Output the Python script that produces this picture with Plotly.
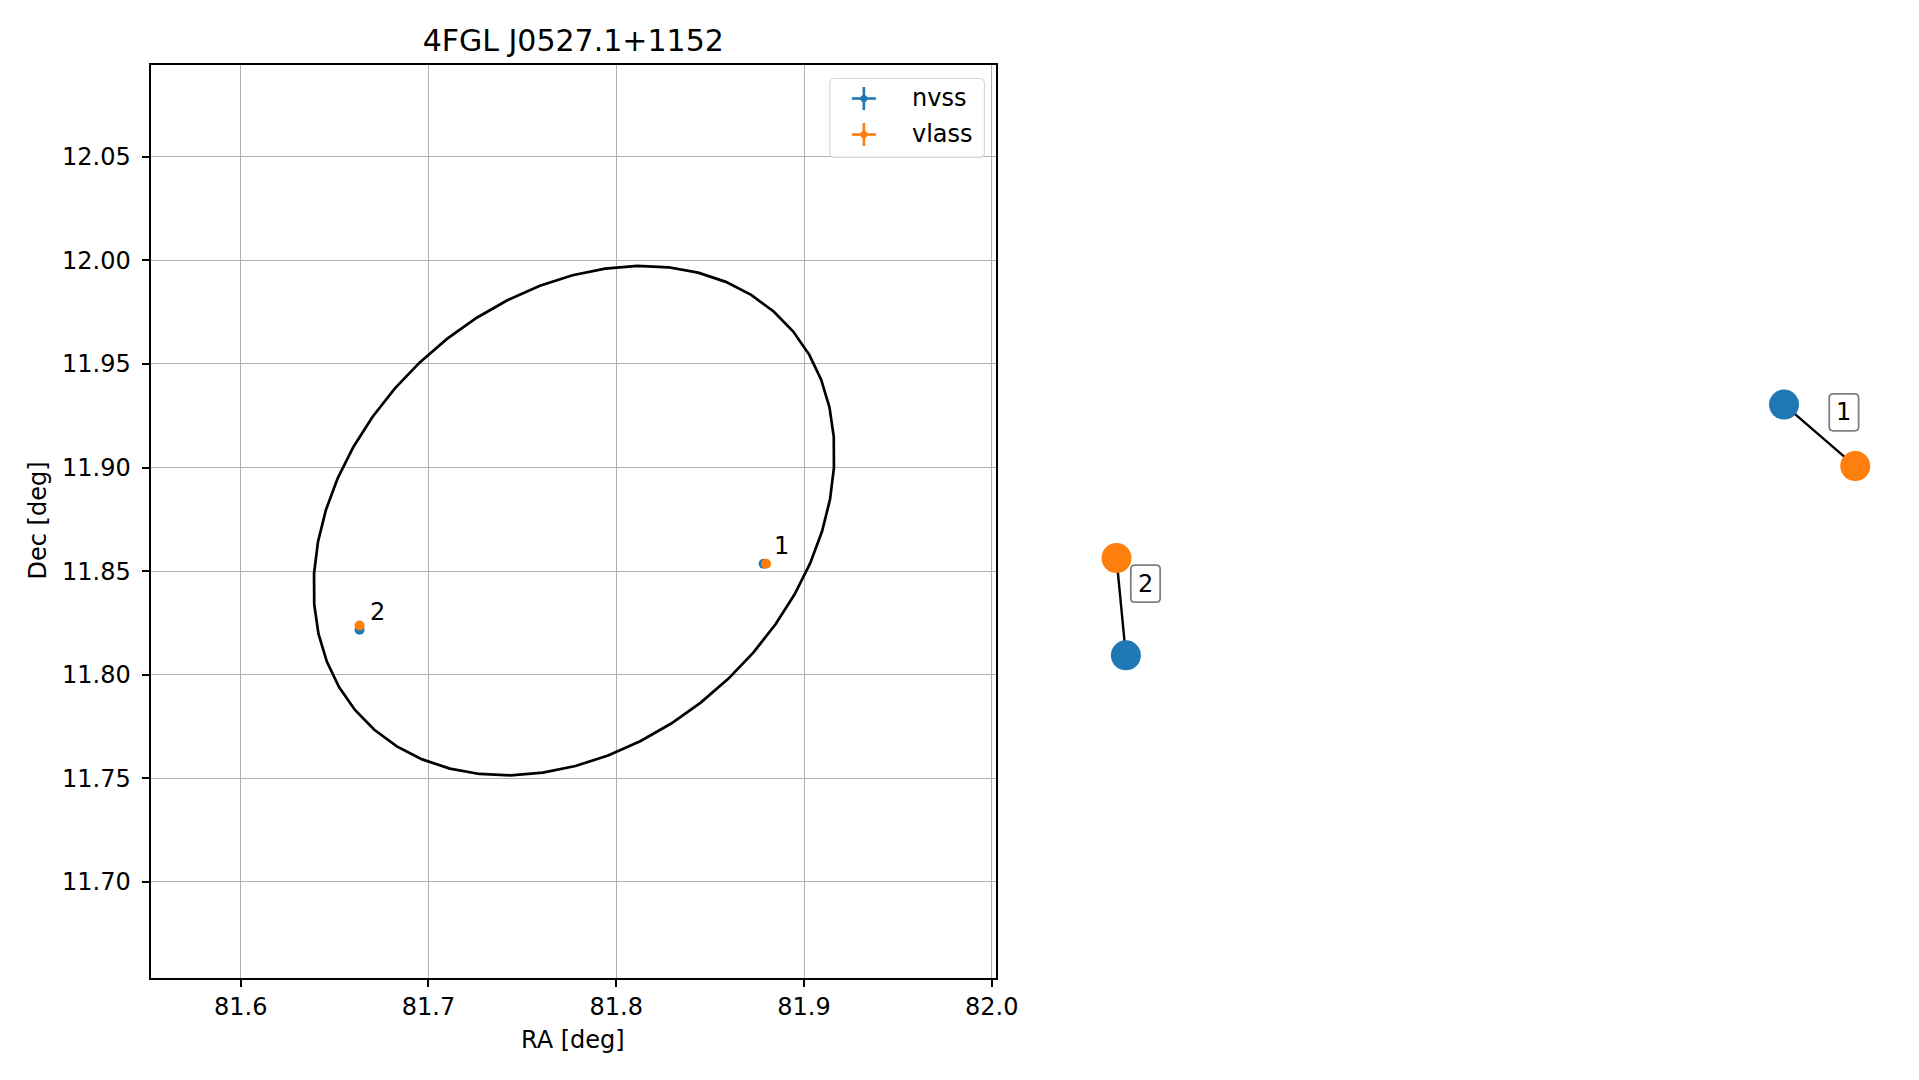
import numpy as np
import plotly.graph_objects as go

# ---------------- data ----------------
TITLE = "4FGL J0527.1+1152"
source_ids = ["1", "2"]
nvss_ra = [81.8785, 81.6633]
nvss_dec = [11.8536, 11.8217]
vlass_ra = [81.8798, 81.6633]
vlass_dec = [11.8536, 11.8238]

# 4FGL 95% ellipse (centre, semi-axes in deg, rotation in deg)
ell_ra = 81.7775
ell_dec = 11.8744
ell_a = 0.1487
ell_b = 0.1106
ell_angle = 32.7
ell_npts = 50

x_ticks = [81.6, 81.7, 81.8, 81.9, 82.0]
y_ticks = [11.70, 11.75, 11.80, 11.85, 11.90, 11.95, 12.00, 12.05]
x_range = [81.552, 82.0022]
y_range = [11.6539, 12.0943]

# right-hand match graph layout (node positions in graph units 0..1)
graph_nvss_x = [0.8714, 0.0788]
graph_nvss_y = [0.6279, 0.3531]
graph_vlass_x = [0.9572, 0.0675]
graph_vlass_y = [0.5605, 0.4597]

BLUE = "#1f77b4"
ORANGE = "#ff7f0e"
FONT = "DejaVu Sans"
W, H = 1919, 1080
K = 0.9876  # horizontal rendering factor observed in the capture


def px(x):
    return x / (W * K)


def py(y):
    return 1 - y / H


# ---------------- figure ----------------
fig = go.Figure()

# ellipse outline
t = np.linspace(0, 2 * np.pi, ell_npts + 1)
th = np.deg2rad(ell_angle)
ex = ell_ra + ell_a * np.cos(th) * np.cos(t) - ell_b * np.sin(th) * np.sin(t)
ey = ell_dec + ell_a * np.sin(th) * np.cos(t) + ell_b * np.cos(th) * np.sin(t)
fig.add_trace(go.Scatter(x=ex, y=ey, mode="lines", line=dict(color="black", width=2.7),
                         showlegend=False, hoverinfo="skip", xaxis="x", yaxis="y"))

fig.add_trace(go.Scatter(x=nvss_ra, y=nvss_dec, mode="markers", name="nvss",
                         marker=dict(color=BLUE, size=10), showlegend=False,
                         xaxis="x", yaxis="y"))
fig.add_trace(go.Scatter(x=vlass_ra, y=vlass_dec, mode="markers", name="vlass",
                         marker=dict(color=ORANGE, size=10), showlegend=False,
                         xaxis="x", yaxis="y"))

annotations = []
for sid, ra, dec in zip(source_ids, nvss_ra, nvss_dec):
    annotations.append(dict(x=ra, y=dec, xref="x", yref="y", text=sid, showarrow=False,
                            xanchor="left", yanchor="bottom", xshift=8, yshift=1.5,
                            font=dict(family=FONT, size=24, color="black")))

shapes = []

# right graph: edges then nodes
ex2, ey2 = [], []
for i in range(len(source_ids)):
    ex2 += [graph_nvss_x[i], graph_vlass_x[i], None]
    ey2 += [graph_nvss_y[i], graph_vlass_y[i], None]
fig.add_trace(go.Scatter(x=ex2, y=ey2, mode="lines", line=dict(color="black", width=2.4),
                         showlegend=False, hoverinfo="skip", xaxis="x2", yaxis="y2"))
fig.add_trace(go.Scatter(x=graph_nvss_x, y=graph_nvss_y, mode="markers", showlegend=False,
                         marker=dict(color=BLUE, size=30), xaxis="x2", yaxis="y2"))
fig.add_trace(go.Scatter(x=graph_vlass_x, y=graph_vlass_y, mode="markers", showlegend=False,
                         marker=dict(color=ORANGE, size=30), xaxis="x2", yaxis="y2"))

bx0, bx1, by0, by1, br = 9.5 / K, 38.5 / K, 4.5, 41.5, 4
box_path = (f"M {bx0 + br},{by0} L {bx1 - br},{by0} Q {bx1},{by0} {bx1},{by0 + br} "
            f"L {bx1},{by1 - br} Q {bx1},{by1} {bx1 - br},{by1} L {bx0 + br},{by1} "
            f"Q {bx0},{by1} {bx0},{by1 - br} L {bx0},{by0 + br} Q {bx0},{by0} {bx0 + br},{by0} Z")
for i, sid in enumerate(source_ids):
    mx = (graph_nvss_x[i] + graph_vlass_x[i]) / 2
    my = (graph_nvss_y[i] + graph_vlass_y[i]) / 2
    shapes.append(dict(type="path", xref="x2", yref="y2", xsizemode="pixel", ysizemode="pixel",
                       xanchor=mx, yanchor=my, path=box_path, fillcolor="white",
                       line=dict(color="#808080", width=1.8), layer="above"))
    annotations.append(dict(x=mx, y=my, xref="x2", yref="y2", text=sid, showarrow=False,
                            xshift=24 / K, yshift=23, xanchor="center", yanchor="middle",
                            font=dict(family=FONT, size=24, color="black")))

# manual legend (matplotlib errorbar style)
lx0, lx1, ly0, ly1, r = 829.5, 984, 78.5, 157.5, 5
path = (f"M {px(lx0 + r)},{py(ly0)} L {px(lx1 - r)},{py(ly0)} "
        f"Q {px(lx1)},{py(ly0)} {px(lx1)},{py(ly0 + r)} L {px(lx1)},{py(ly1 - r)} "
        f"Q {px(lx1)},{py(ly1)} {px(lx1 - r)},{py(ly1)} L {px(lx0 + r)},{py(ly1)} "
        f"Q {px(lx0)},{py(ly1)} {px(lx0)},{py(ly1 - r)} L {px(lx0)},{py(ly0 + r)} "
        f"Q {px(lx0)},{py(ly0)} {px(lx0 + r)},{py(ly0)} Z")
shapes.append(dict(type="path", path=path, xref="paper", yref="paper",
                   line=dict(color="#d6d6d6", width=1.2), fillcolor="rgba(255,255,255,0.8)",
                   layer="above"))
for name, col, cy in [("nvss", BLUE, 98.5), ("vlass", ORANGE, 134.5)]:
    cx = 863.5
    shapes.append(dict(type="line", xref="paper", yref="paper", x0=px(cx - 12), x1=px(cx + 12),
                       y0=py(cy), y1=py(cy), line=dict(color=col, width=2.6), layer="above"))
    shapes.append(dict(type="line", xref="paper", yref="paper", x0=px(cx), x1=px(cx),
                       y0=py(cy - 11.5), y1=py(cy + 11.5), line=dict(color=col, width=2.6),
                       layer="above"))
    shapes.append(dict(type="circle", xref="paper", yref="paper", x0=px(cx - 3.5), x1=px(cx + 3.5),
                       y0=py(cy - 3.5), y1=py(cy + 3.5), line=dict(color=col, width=0),
                       fillcolor=col, layer="above"))
    annotations.append(dict(x=px(910), y=py(cy), xref="paper", yref="paper", text=name,
                            showarrow=False, xanchor="left", yanchor="middle",
                            font=dict(family=FONT, size=24, color="black")))

# axis titles
annotations.append(dict(x=px(573), y=py(1040), xref="paper", yref="paper", text="RA [deg]",
                        showarrow=False, xanchor="center", yanchor="middle",
                        font=dict(family=FONT, size=24, color="black")))
annotations.append(dict(x=px(37.5), y=py(521), xref="paper", yref="paper", text="Dec [deg]",
                        showarrow=False, xanchor="center", yanchor="middle", textangle=-90,
                        font=dict(family=FONT, size=24, color="black")))

axis_common = dict(showline=True, linecolor="black", linewidth=2, mirror=True,
                   ticks="outside", ticklen=7, tickwidth=1.8, tickcolor="black",
                   showgrid=True, gridcolor="#b0b0b0", gridwidth=1.3, zeroline=False,
                   tickfont=dict(family=FONT, size=24, color="black"))

fig.update_layout(
    autosize=False, width=W, height=H, margin=dict(l=0, r=0, t=0, b=0, pad=0),
    paper_bgcolor="white", plot_bgcolor="white",
    font=dict(family=FONT, size=24, color="black"),
    title=dict(text=TITLE, x=px(573), y=py(40.5), xref="paper", yref="paper",
               xanchor="center", yanchor="middle", font=dict(family=FONT, size=30, color="black")),
    xaxis=dict(domain=[px(150.5), px(995.5)], range=x_range, tickvals=x_ticks,
               ticktext=[f"{v:.1f}" for v in x_ticks], anchor="y", ticklabelstandoff=0,
               **axis_common),
    yaxis=dict(domain=[py(977.5), py(65)], range=y_range, tickvals=y_ticks,
               ticktext=[f"{v:.2f}" for v in y_ticks], anchor="x", ticklabelstandoff=6,
               **axis_common),
    xaxis2=dict(domain=[px(1060), px(1890)], range=[0, 1], visible=False, anchor="y2"),
    yaxis2=dict(domain=[py(977.5), py(65)], range=[0, 1], visible=False, anchor="x2"),
    shapes=shapes, annotations=annotations, showlegend=False,
)

fig.write_html("out.html", config={"displayModeBar": False, "responsive": False},
               post_script="document.body.style.margin='0px';document.body.style.overflow='hidden';")
